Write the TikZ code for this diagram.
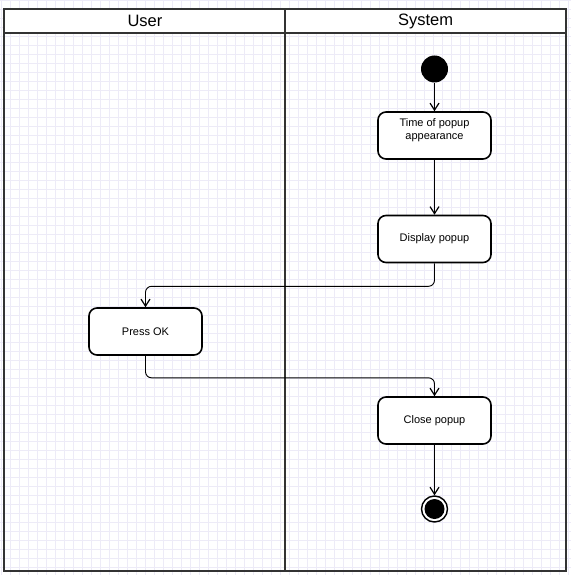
\documentclass[tikz,border=0pt]{standalone}
\usepackage{fontspec}
\setmainfont{Liberation Sans}
\usetikzlibrary{arrows.meta}
\definecolor{gridc}{RGB}{237,235,247}
\definecolor{framec}{RGB}{51,51,51}
\tikzset{
  gridline/.style={draw=gridc, line width=0.8pt},
  frameline/.style={draw=framec, line width=2pt},
  lanehead/.style={font=\fontsize{16.5}{20}\selectfont, text=black, inner sep=0pt},
  actbox/.style={draw=black, line width=1.6pt, rounded corners=8pt, fill=white,
    minimum width=113pt, minimum height=47pt, align=center, inner sep=2pt,
    font=\fontsize{11}{13}\selectfont},
  startnode/.style={circle, fill=black, minimum size=27pt, inner sep=0pt},
  endnode/.style={circle, draw=black, line width=1.4pt, fill=white, minimum size=26pt, inner sep=0pt},
  flow/.style={draw=black, line width=0.9pt, -{Straight Barb[length=7pt,width=9pt,line width=1.2pt]}},
}
\begin{document}
\begin{tikzpicture}[x=1pt,y=-1pt]
\useasboundingbox (0,0) rectangle (571,575);
\fill[white] (0,0) rectangle (571,575);
% grid
\foreach \i in {0,...,63} {
  \draw[gridline] ({1+9*\i},0) -- ({1+9*\i},575);
  \draw[gridline] (0,{9*\i}) -- (571,{9*\i});
}
% swimlanes
\fill[white] (4,9) rectangle (566,33);
\draw[frameline] (4,9) rectangle (566,571);
\draw[frameline] (4,33) -- (566,33);
\draw[frameline] (285,9) -- (285,571);
\node[lanehead] (huser) at (145,21) {User};
\node[lanehead] (hsys) at (425.5,21) {System};
% nodes
\node[startnode] (start) at (434.5,69) {};
\node[actbox] (t1) at (434.5,135.5) {Time of popup\\appearance\\\mbox{}};
\node[actbox] (t2) at (434.5,239) {Display popup};
\node[actbox] (press) at (145.5,331.5) {Press OK};
\node[actbox] (close) at (434.5,420.5) {Close popup};
\node[endnode] (end) at (434.5,509) {};
\fill[black] (end.center) circle (10pt);
% connectors
\draw[flow] (start) -- (t1);
\draw[flow] (t1) -- (t2);
\draw[flow, rounded corners=6pt] (t2.south) -- ++(0,23) -| (press.north);
\draw[flow, rounded corners=6pt] (press.south) -- ++(0,22) -| (close.north);
\draw[flow] (close) -- (end);
\end{tikzpicture}
\end{document}
